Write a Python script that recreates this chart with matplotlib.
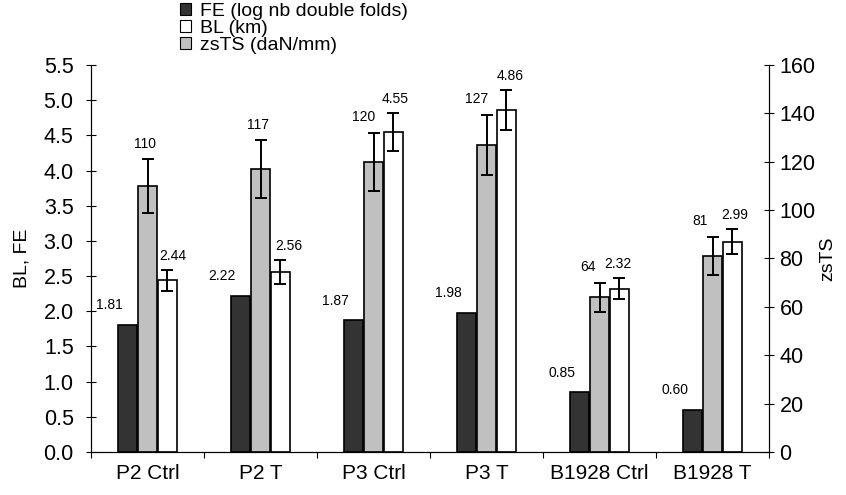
import matplotlib
matplotlib.use("Agg")
import matplotlib.pyplot as plt
import numpy as np
from matplotlib.patches import Patch
from matplotlib.ticker import FixedLocator, NullFormatter

plt.rcParams['font.family'] = ['Liberation Sans', 'DejaVu Sans']

categories = ["P2 Ctrl", "P2 T", "P3 Ctrl", "P3 T", "B1928 Ctrl", "B1928 T"]
fe = [1.81, 2.22, 1.87, 1.98, 0.85, 0.60]
bl = [2.44, 2.56, 4.55, 4.86, 2.32, 2.99]
bl_err = [0.15, 0.17, 0.27, 0.29, 0.15, 0.18]
zsts = [110, 117, 120, 127, 64, 81]
zsts_err = [11, 12, 12, 12.5, 6, 8]

left_ticks = [0.0, 0.5, 1.0, 1.5, 2.0, 2.5, 3.0, 3.5, 4.0, 4.5, 5.0, 5.5]
right_ticks = [0, 20, 40, 60, 80, 100, 120, 140, 160]

# horizontal nudges (points) for the value labels
zsts_label_dx = [-2, -2, -7, -7, -8, -9]
bl_label_dx = [4, 6, 1, 3, -1, 1.5]

dark = "#333333"
grey = "#c0c0c0"
white = "#ffffff"

fig = plt.figure(figsize=(8.46, 4.95), dpi=100)
ax = fig.add_axes([0.1076, 0.087, 0.8014, 0.7817])
ax2 = ax.twinx()

x = np.arange(len(categories))
w = 0.168
off = 0.175

ax.bar(x - off, fe, w, color=dark, edgecolor="black", linewidth=1.2, zorder=2)
ax.bar(x + off, bl, w, color=white, edgecolor="black", linewidth=1.2, zorder=2)
ax.errorbar(x + off, bl, yerr=bl_err, fmt="none", ecolor="black",
            elinewidth=1.4, capsize=4, capthick=1.4, zorder=3)
ax2.bar(x, zsts, w, color=grey, edgecolor="black", linewidth=1.2, zorder=2)
ax2.errorbar(x, zsts, yerr=zsts_err, fmt="none", ecolor="black",
             elinewidth=1.4, capsize=4, capthick=1.4, zorder=3)

lab_font = dict(fontsize=10)
for i in range(len(categories)):
    ax.annotate(f"{fe[i]:.2f}", (x[i] - off - w / 2, fe[i]),
                xytext=(3.5, 9), textcoords="offset points",
                ha="right", va="bottom", **lab_font)
    ax.annotate(f"{bl[i]:.2f}", (x[i] + off, bl[i] + bl_err[i]),
                xytext=(bl_label_dx[i], 5), textcoords="offset points",
                ha="center", va="bottom", **lab_font)
    ax2.annotate(f"{zsts[i]:d}", (x[i], zsts[i] + zsts_err[i]),
                 xytext=(zsts_label_dx[i], 6), textcoords="offset points",
                 ha="center", va="bottom", **lab_font)

ax.set_xlim(-0.5, len(categories) - 0.5)
ax.set_ylim(0, 5.5)
ax2.set_ylim(0, 160)

ax.set_yticks(left_ticks)
ax.set_yticklabels([f"{t:.1f}" for t in left_ticks])
ax2.set_yticks(right_ticks)
ax2.set_yticklabels([str(t) for t in right_ticks])

ax.set_xticks(x)
ax.set_xticklabels(categories, fontsize=15)
ax.tick_params(axis="x", which="major", length=0, pad=9)
ax.xaxis.set_minor_locator(FixedLocator(np.arange(-0.5, len(categories), 1.0)))
ax.xaxis.set_minor_formatter(NullFormatter())
ax.tick_params(axis="x", which="minor", direction="out", length=4, width=0.8)

ax.tick_params(axis="y", direction="inout", length=7, width=0.8, labelsize=15.5, pad=9)
ax2.tick_params(axis="y", direction="inout", length=7, width=0.8, labelsize=15.5, pad=4)

for a in (ax, ax2):
    a.spines["top"].set_visible(False)
    for s in ("left", "right", "bottom"):
        a.spines[s].set_linewidth(0.8)

ax.set_ylabel("BL, FE", fontsize=14, labelpad=9)
ax2.set_ylabel("zsTS", fontsize=14, labelpad=3)

handles = [Patch(facecolor=dark, edgecolor="black", linewidth=0.8),
           Patch(facecolor=white, edgecolor="black", linewidth=0.8),
           Patch(facecolor=grey, edgecolor="black", linewidth=0.8)]
labels = ["FE (log nb double folds)", "BL (km)", "zsTS (daN/mm)"]
fig.legend(handles, labels, loc="upper left", bbox_to_anchor=(0.197, 1.022),
           frameon=False, fontsize=14, handlelength=0.55, handleheight=0.55,
           handletextpad=0.45, labelspacing=0.0, borderpad=0.2)

fig.savefig("out.png", dpi=100)
